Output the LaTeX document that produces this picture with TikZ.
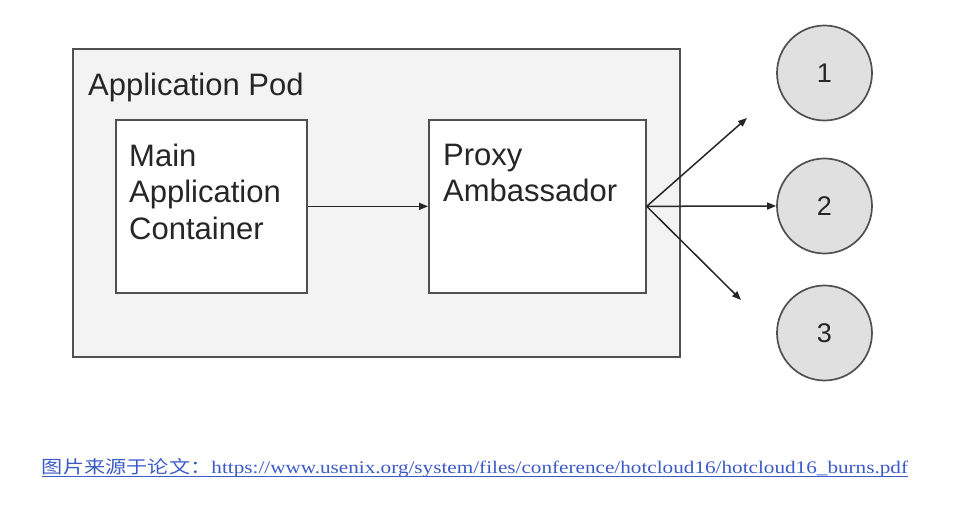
\documentclass[tikz,border=0pt]{standalone}
\usepackage{fontspec}
\setmainfont{Liberation Sans}
\newfontfamily\capfont{Liberation Serif}
\newfontfamily\cjk{Noto Sans CJK SC}
\usetikzlibrary{arrows.meta}
\definecolor{edge}{RGB}{80,80,80}
\definecolor{podfill}{RGB}{243,243,243}
\definecolor{circfill}{RGB}{224,224,224}
\definecolor{linkblue}{RGB}{60,90,200}
\begin{document}
\begin{tikzpicture}[x=1pt,y=-1pt,
  box/.style={draw=edge,line width=1.7pt,inner sep=0pt,anchor=north west},
  lbl/.style={inner sep=0pt,anchor=north west,align=left,font=\fontsize{31}{36.5}\selectfont,text=black!85},
  circ/.style={circle,draw=edge,line width=1.7pt,fill=circfill,minimum size=95pt,inner sep=0pt,font=\fontsize{27}{30}\selectfont,text=black!85},
  conn/.style={draw=black!85,line width=1.5pt,-{Triangle[length=9pt,width=7pt]}}]
\path[fill=white] (0,0) rectangle (954,518);
\useasboundingbox (0,0) rectangle (954,518);
\node[box,fill=podfill,minimum width=607pt,minimum height=308pt] (pod) at (72,48) {};
\node[lbl] (podlbl) at (88,72.8) {Application Pod};
\node[box,fill=white,minimum width=191pt,minimum height=173pt] (main) at (115,119) {};
\node[lbl] (maintext) at (129,143.8) {Main\\Application\\Container};
\node[box,fill=white,minimum width=217pt,minimum height=173pt] (proxy) at (428,119) {};
\node[lbl] (proxytext) at (443,143.8) {Proxy\\Ambassador};
\node[circ] (c1) at (824.5,73) {1};
\node[circ] (c2) at (824.5,206) {2};
\node[circ] (c3) at (824.5,333) {3};
\coordinate (t1) at (747,118);
\coordinate (t3) at (741,300);
\draw[conn] (main.east) -- (proxy.west);
\draw[conn] (proxy.east) -- (t1);
\draw[conn] (proxy.east) -- (c2.west);
\draw[conn] (proxy.east) -- (t3);
\node[inner sep=0pt,text=linkblue,anchor=base] (cap) at (475,474) {\resizebox{866pt}{15pt}{{\cjk 图片来源于论文：}{\capfont https://www.usenix.org/system/files/conference/hotcloud16/hotcloud16\_burns.pdf}}};
\draw[linkblue,line width=1pt] ([yshift=-3pt]cap.base west) -- ([yshift=-3pt]cap.base east);
\end{tikzpicture}
\end{document}
